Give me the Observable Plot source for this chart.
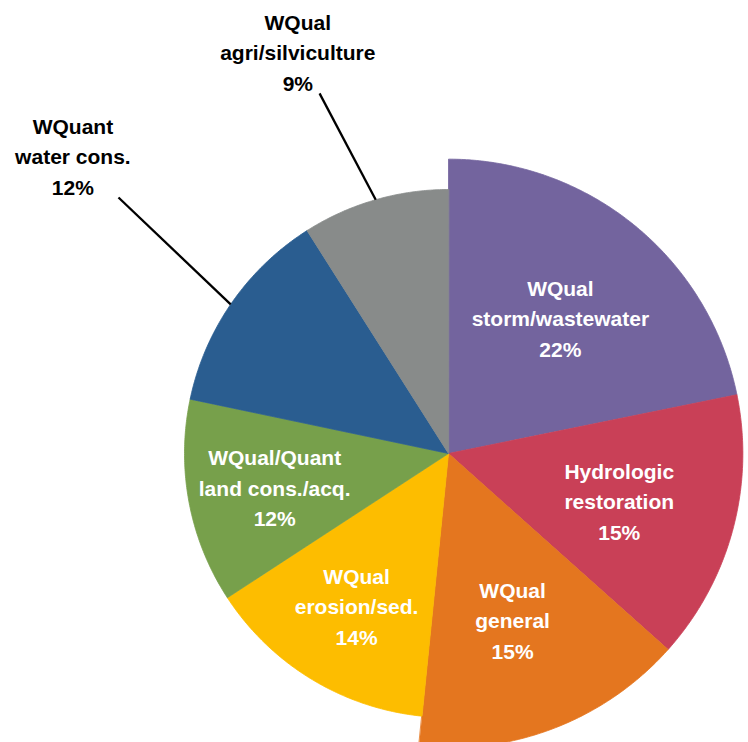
<!DOCTYPE html>
<html>
<head>
<meta charset="utf-8">
<script src="https://cdn.jsdelivr.net/npm/d3@7"></script>
<script src="https://cdn.jsdelivr.net/npm/@observablehq/plot@0.6"></script>
<style>
  html, body { margin: 0; padding: 0; background: #ffffff; }
  #chart svg { display: block; }
</style>
</head>
<body>
<div id="chart"></div>
<script>
// ---- data ----
const groups   = ["WQual", "Hydrologic", "WQual", "WQual", "WQual/Quant", "WQuant", "WQual"];
const topics   = ["storm/wastewater", "restoration", "general", "erosion/sed.", "land cons./acq.", "water cons.", "agri/silviculture"];
const printedPct = [22, 15, 15, 14, 12, 12, 9];          // percentages as printed on the labels
const shares   = [21.8, 14.8, 15.0, 14.2, 12.5, 12.7, 9.0]; // slice sizes estimated from the angles
const palette  = ["#73649e", "#c94057", "#e4761f", "#fdbd00", "#77a04b", "#2a5d90", "#888b8a"];

// ---- layout options ----
const W = 748, H = 742;
const R = 264;                 // px per unit radius
const cx = 448, cy = 453;      // pie centre in px
const bigRadius = 1.115;       // first three slices are drawn larger
const bigSlices = 3;
const insideLabelRadius = 0.67;
const outside = {              // polar placement (degrees clockwise from north, radius in units)
  5: {label: [308.5, 1.818], from: [304.4, 1.0], to: [307.8, 1.582]},
  6: {label: [339.5, 1.63],  from: [344.0, 1.0], to: [340.3, 1.449]}
};

const names = groups.map((g, i) => g + " " + topics[i]);
const total = d3.sum(shares);
const polar = (deg, r) => {
  const t = deg * Math.PI / 180;
  return {x: r * Math.sin(t), y: r * Math.cos(t)};
};

// slice outlines
const slicePts = [];
let acc = 0;
const slices = shares.map((v, i) => {
  const a0 = acc / total * 360;
  acc += v;
  const a1 = acc / total * 360;
  return {i, a0, a1, mid: (a0 + a1) / 2, r: i < bigSlices ? bigRadius : 1};
});
for (const s of slices) {
  slicePts.push({name: names[s.i], x: 0, y: 0});
  const n = Math.max(2, Math.ceil((s.a1 - s.a0) / 0.5));
  for (let k = 0; k <= n; k++) {
    const p = polar(s.a0 + (s.a1 - s.a0) * k / n, s.r);
    slicePts.push({name: names[s.i], ...p});
  }
}

const labelText = i => groups[i] + "\n" + topics[i] + "\n" + printedPct[i] + "%";
const insideLabels = slices.filter(s => !outside[s.i]).map(s => ({text: labelText(s.i), ...polar(s.mid, insideLabelRadius)}));
const outsideLabels = slices.filter(s => outside[s.i]).map(s => ({text: labelText(s.i), ...polar(...outside[s.i].label)}));
const leaders = slices.filter(s => outside[s.i]).map(s => {
  const a = polar(...outside[s.i].from), b = polar(...outside[s.i].to);
  return {x1: a.x, y1: a.y, x2: b.x, y2: b.y};
});

const font = "'Liberation Sans', Arial, Helvetica, sans-serif";

const chart = Plot.plot({
  width: W,
  height: H,
  margin: 0,
  style: {background: "#ffffff", fontFamily: font},
  x: {domain: [-cx / R, (W - cx) / R], axis: null},
  y: {domain: [-(H - cy) / R, cy / R], axis: null},
  color: {domain: names, range: palette},
  marks: [
    Plot.line(slicePts, {x: "x", y: "y", z: "name", fill: "name", stroke: "name", strokeWidth: 0.8, curve: "linear-closed"}),
    Plot.link(leaders, {x1: "x1", y1: "y1", x2: "x2", y2: "y2", stroke: "#000000", strokeWidth: 2.3}),
    Plot.text(insideLabels, {x: "x", y: "y", text: "text", fill: "#ffffff", fontSize: 21, fontWeight: "bold", lineHeight: 1.45, fontFamily: font}),
    Plot.text(outsideLabels, {x: "x", y: "y", text: "text", fill: "#000000", fontSize: 21, fontWeight: "bold", lineHeight: 1.45, fontFamily: font})
  ]
});
document.getElementById("chart").appendChild(chart);
</script>
</body>
</html>
